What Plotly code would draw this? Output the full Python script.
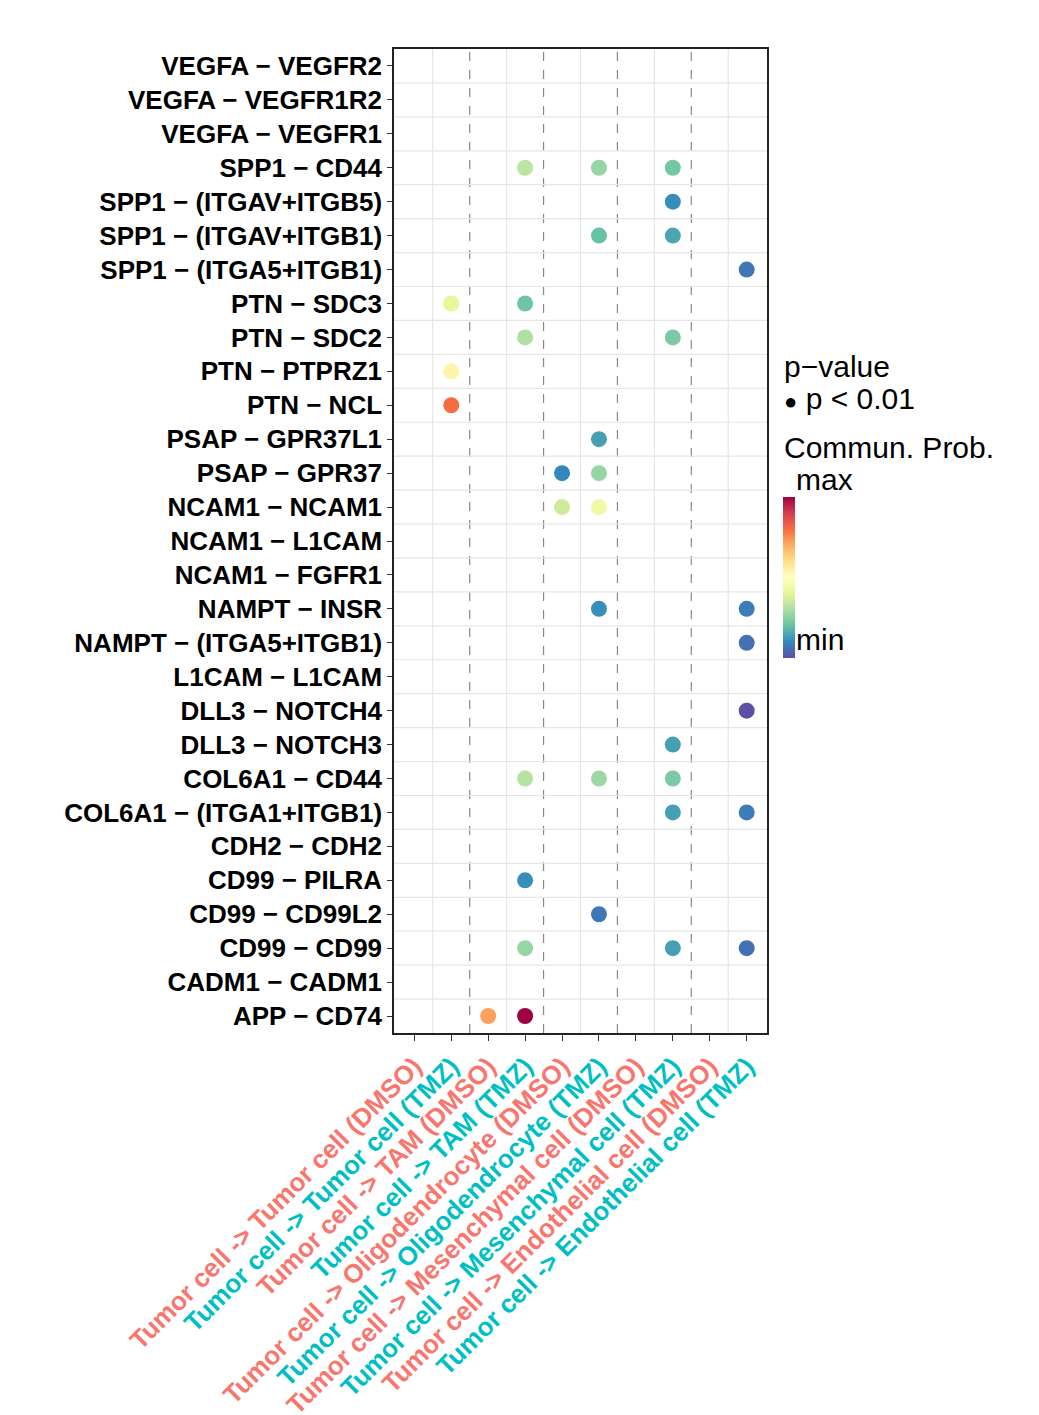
import plotly.graph_objects as go

DMSO = "#F8766D"
TMZ = "#00BFC4"

pairs = [
    "Tumor cell -> Tumor cell (DMSO)", "Tumor cell -> Tumor cell (TMZ)",
    "Tumor cell -> TAM (DMSO)", "Tumor cell -> TAM (TMZ)",
    "Tumor cell -> Oligodendrocyte (DMSO)", "Tumor cell -> Oligodendrocyte (TMZ)",
    "Tumor cell -> Mesenchymal cell (DMSO)", "Tumor cell -> Mesenchymal cell (TMZ)",
    "Tumor cell -> Endothelial cell (DMSO)", "Tumor cell -> Endothelial cell (TMZ)",
]
lr_pairs = [
    "VEGFA − VEGFR2", "VEGFA − VEGFR1R2", "VEGFA − VEGFR1", "SPP1 − CD44",
    "SPP1 − (ITGAV+ITGB5)", "SPP1 − (ITGAV+ITGB1)", "SPP1 − (ITGA5+ITGB1)",
    "PTN − SDC3", "PTN − SDC2", "PTN − PTPRZ1", "PTN − NCL", "PSAP − GPR37L1",
    "PSAP − GPR37", "NCAM1 − NCAM1", "NCAM1 − L1CAM", "NCAM1 − FGFR1",
    "NAMPT − INSR", "NAMPT − (ITGA5+ITGB1)", "L1CAM − L1CAM", "DLL3 − NOTCH4",
    "DLL3 − NOTCH3", "COL6A1 − CD44", "COL6A1 − (ITGA1+ITGB1)", "CDH2 − CDH2",
    "CD99 − PILRA", "CD99 − CD99L2", "CD99 − CD99", "CADM1 − CADM1", "APP − CD74",
]

# (ligand-receptor, column index, relative commun. prob)
dot_lr = ["SPP1 − CD44", "SPP1 − CD44", "SPP1 − CD44",
          "SPP1 − (ITGAV+ITGB5)",
          "SPP1 − (ITGAV+ITGB1)", "SPP1 − (ITGAV+ITGB1)",
          "SPP1 − (ITGA5+ITGB1)",
          "PTN − SDC3", "PTN − SDC3",
          "PTN − SDC2", "PTN − SDC2",
          "PTN − PTPRZ1", "PTN − NCL", "PSAP − GPR37L1",
          "PSAP − GPR37", "PSAP − GPR37",
          "NCAM1 − NCAM1", "NCAM1 − NCAM1",
          "NAMPT − INSR", "NAMPT − INSR",
          "NAMPT − (ITGA5+ITGB1)", "DLL3 − NOTCH4", "DLL3 − NOTCH3",
          "COL6A1 − CD44", "COL6A1 − CD44", "COL6A1 − CD44",
          "COL6A1 − (ITGA1+ITGB1)", "COL6A1 − (ITGA1+ITGB1)",
          "CD99 − PILRA", "CD99 − CD99L2",
          "CD99 − CD99", "CD99 − CD99", "CD99 − CD99",
          "APP − CD74", "APP − CD74"]
dot_col = [3, 5, 7, 7, 5, 7, 9, 1, 3, 3, 7, 1, 1, 5, 4, 5, 4, 5, 5, 9,
           9, 9, 7, 3, 5, 7, 7, 9, 3, 5, 3, 7, 9, 2, 3]
dot_prob = [0.33, 0.27, 0.22, 0.11, 0.20, 0.15, 0.07, 0.41, 0.21, 0.31, 0.23,
            0.54, 0.80, 0.14, 0.10, 0.27, 0.36, 0.44, 0.11, 0.08, 0.06, 0.0,
            0.14, 0.32, 0.28, 0.23, 0.14, 0.08, 0.11, 0.07, 0.27, 0.14, 0.06,
            0.72, 1.0]

fig = go.Figure()
fig.add_trace(go.Scatter(
    x=[pairs[c] for c in dot_col], y=dot_lr, mode="markers",
    marker=dict(size=16, color=dot_prob, colorscale="Spectral_r", cmin=0, cmax=1,
                showscale=True,
                colorbar=dict(x=1.043, xanchor="left", xpad=0, ypad=0, y=0.463,
                              yanchor="middle", len=0.164, thickness=12, outlinewidth=0,
                              showticklabels=False, ticks="")),
    showlegend=False,
))

# grid lines between categories: solid within a pair, dashed between pairs
for i in range(len(pairs) - 1):
    fig.add_shape(type="line", xref="x", yref="paper", x0=i + 0.5, x1=i + 0.5, y0=0, y1=1,
                  line=dict(color="#888888" if i % 2 else "#e6e6e6",
                            width=1.2, dash="dash" if i % 2 else "solid"), layer="below")
for j in range(len(lr_pairs) - 1):
    fig.add_shape(type="line", xref="paper", yref="y", x0=0, x1=1, y0=j + 0.5, y1=j + 0.5,
                  line=dict(color="#e6e6e6", width=1.2), layer="below")

xticktext = [f"<b><span style='color:{DMSO if 'DMSO' in p else TMZ}'>{p}</span></b>"
             for p in pairs]
yticktext = [f"<b>{p}</b>" for p in lr_pairs]
fig.update_xaxes(categoryorder="array", categoryarray=pairs, tickmode="array",
                 tickvals=pairs, ticktext=xticktext, tickangle=-45, automargin=False,
                 range=[-0.55, 9.55], showgrid=False, ticks="outside", ticklen=6,
                 tickcolor="#333", showline=True, linecolor="#222", linewidth=1.5,
                 mirror=True, tickfont=dict(size=26), zeroline=False)
fig.update_yaxes(categoryorder="array", categoryarray=lr_pairs, tickmode="array",
                 tickvals=lr_pairs, ticktext=yticktext, autorange=False, automargin=False,
                 range=[len(lr_pairs) - 0.5, -0.5], showgrid=False, ticks="outside",
                 ticklen=5, tickcolor="#333", showline=True, linecolor="#222",
                 linewidth=1.5, mirror=True, tickfont=dict(size=26, color="black"),
                 zeroline=False)

anns = [
    dict(x=1.04, y=0.677, text="p−value"),
    dict(x=1.04, y=0.645, text="<span style='font-size:22px'>●</span> p < 0.01"),
    dict(x=1.04, y=0.595, text="Commun. Prob."),
    dict(x=1.072, y=0.563, text="max"),
    dict(x=1.072, y=0.400, text="min"),
]
for a in anns:
    fig.add_annotation(xref="paper", yref="paper", x=a["x"], y=a["y"], text=a["text"],
                       showarrow=False, xanchor="left", yanchor="middle",
                       font=dict(size=30, color="black"))

fig.update_layout(
    width=1039, height=1415,
    margin=dict(l=386, r=280, t=41, b=390),
    plot_bgcolor="white", paper_bgcolor="white",
    font=dict(family="Liberation Sans, Arial, sans-serif", color="black"),
)
fig.write_html("out.html")
